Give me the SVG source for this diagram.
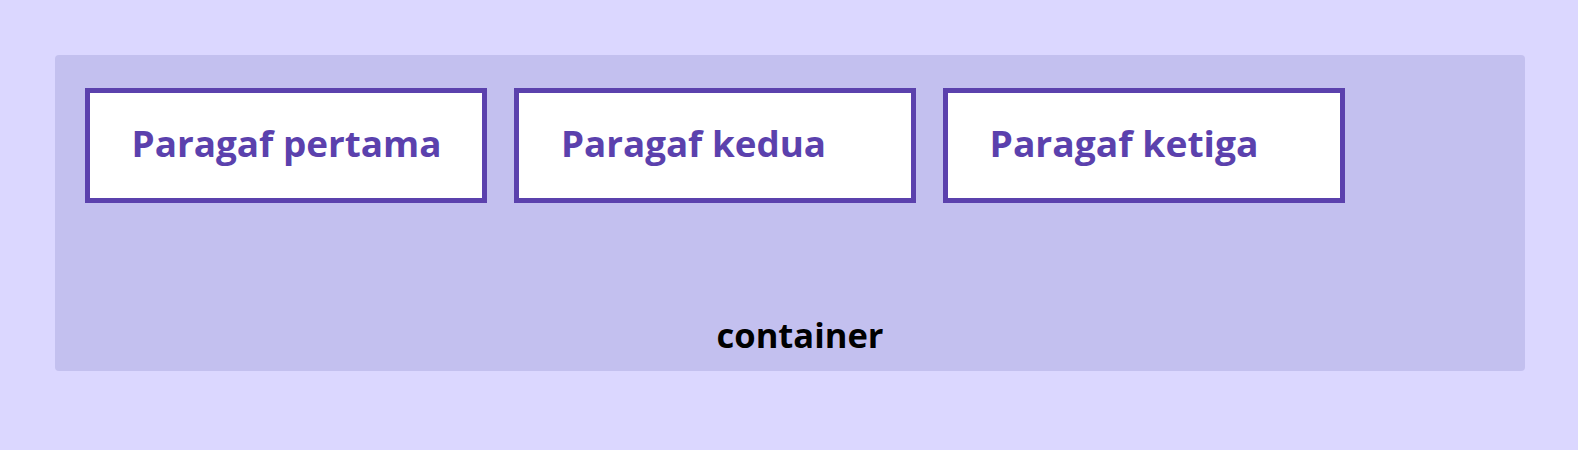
<svg xmlns="http://www.w3.org/2000/svg" width="1578" height="450" viewBox="0 0 1578 450">
  <style>
    .box { fill: #ffffff; stroke: #5b41ad; stroke-width: 5; }
    .lbl { font-family: "Open Sans", "Liberation Sans", sans-serif; font-weight: 700; font-size: 35px; fill: #5b41ad; }
    .ctr { font-family: "Open Sans", "Liberation Sans", sans-serif; font-weight: 700; font-size: 34px; fill: #000000; }
  </style>
  <rect x="0" y="0" width="1578" height="450" fill="#dbd7ff"/>
  <g id="container">
    <rect x="55" y="55" width="1470" height="316" rx="4" fill="#c3c0ef"/>
    <text class="ctr" x="800" y="348" text-anchor="middle" textLength="167" lengthAdjust="spacingAndGlyphs">container</text>
  </g>
  <g id="paragaf-pertama">
    <rect class="box" x="87.5" y="90.5" width="397" height="110"/>
    <text class="lbl" x="131.5" y="156.5" textLength="310" lengthAdjust="spacingAndGlyphs">Paragaf pertama</text>
  </g>
  <g id="paragaf-kedua">
    <rect class="box" x="516.5" y="90.5" width="397" height="110"/>
    <text class="lbl" x="561" y="156.5" textLength="265" lengthAdjust="spacingAndGlyphs">Paragaf kedua</text>
  </g>
  <g id="paragaf-ketiga">
    <rect class="box" x="945.5" y="90.5" width="397" height="110"/>
    <text class="lbl" x="989.5" y="156.5" textLength="269" lengthAdjust="spacingAndGlyphs">Paragaf ketiga</text>
  </g>
  <g id="connectors"></g>
</svg>
